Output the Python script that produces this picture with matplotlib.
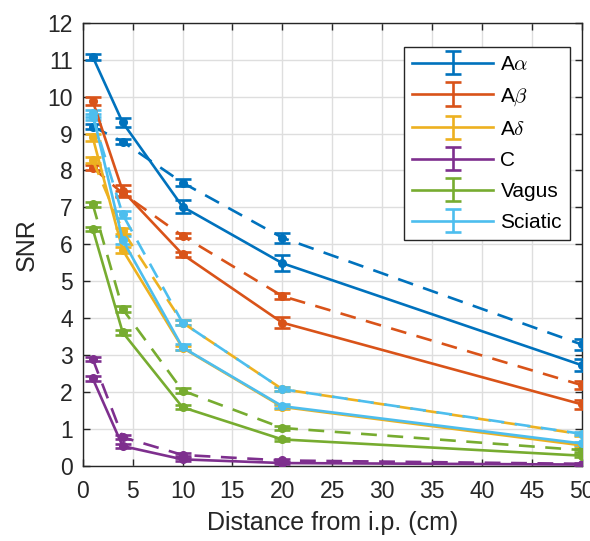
import matplotlib
matplotlib.use("Agg")
import matplotlib.pyplot as plt
from matplotlib.legend_handler import HandlerErrorbar
import numpy as np

plt.rcParams['font.family'] = ['Liberation Sans', 'DejaVu Sans']
plt.rcParams['mathtext.fontset'] = 'cm'

distance = [1, 4, 10, 20, 50]
fibers = ['A$\\alpha$', 'A$\\beta$', 'A$\\delta$', 'C', 'Vagus', 'Sciatic']
colors = ['#0072BD', '#D95319', '#EDB120', '#7E2F8E', '#77AC30', '#4DBEEE']

# solid lines
snr_solid = [
    [11.08, 9.30, 7.02, 5.49, 2.73],
    [9.88, 7.45, 5.73, 3.88, 1.67],
    [8.90, 5.85, 3.20, 1.60, 0.56],
    [2.37, 0.54, 0.18, 0.08, 0.04],
    [6.42, 3.62, 1.59, 0.72, 0.28],
    [9.55, 6.12, 3.21, 1.62, 0.61],
]
err_solid = [
    [0.08, 0.11, 0.17, 0.22, 0.16],
    [0.10, 0.17, 0.07, 0.15, 0.13],
    [0.09, 0.08, 0.05, 0.05, 0.04],
    [0.06, 0.05, 0.04, 0.03, 0.02],
    [0.06, 0.07, 0.06, 0.05, 0.04],
    [0.10, 0.10, 0.08, 0.06, 0.04],
]

# dashed lines
snr_dashed = [
    [9.19, 8.78, 7.67, 6.18, 3.29],
    [8.08, 7.38, 6.23, 4.60, 2.19],
    [8.28, 6.37, 3.88, 2.08, 0.86],
    [2.90, 0.78, 0.30, 0.15, 0.06],
    [7.09, 4.25, 2.04, 1.03, 0.43],
    [9.45, 6.81, 3.88, 2.08, 0.87],
]
err_dashed = [
    [0.06, 0.06, 0.10, 0.14, 0.15],
    [0.07, 0.06, 0.07, 0.09, 0.11],
    [0.08, 0.08, 0.06, 0.05, 0.04],
    [0.06, 0.05, 0.04, 0.03, 0.02],
    [0.07, 0.07, 0.06, 0.05, 0.04],
    [0.09, 0.09, 0.07, 0.05, 0.04],
]

fig = plt.figure(figsize=(5.9, 5.41), dpi=100)
ax = fig.add_axes([0.1402, 0.1386, 0.8458, 0.8194])

lw = 1.9
handles = []
for i in range(len(fibers)):
    ax.errorbar(distance, snr_solid[i], yerr=err_solid[i], color=colors[i],
                lw=lw, marker='o', ms=5.5, capsize=5.6, capthick=lw, elinewidth=lw,
                zorder=3)
    eb = ax.errorbar(distance, snr_dashed[i], yerr=err_dashed[i], color=colors[i],
                     lw=lw, marker='o', ms=5.5, capsize=5.6, capthick=lw, elinewidth=lw,
                     zorder=3)
    eb[0].set_dashes((6, 4))
    # legend proxy without marker
    h = ax.errorbar([np.nan], [np.nan], yerr=[1], color=colors[i], lw=lw,
                    capsize=5.6, capthick=lw, elinewidth=lw)
    handles.append(h)

ax.set_xlim(0, 50)
ax.set_ylim(0, 12)
ax.set_xticks(np.arange(0, 51, 5))
ax.set_yticks(np.arange(0, 13, 1))
ax.grid(True, color='#dedede', lw=1.0)
ax.set_axisbelow(True)
ax.tick_params(direction='in', length=5, width=1, colors='#262626',
               labelsize=16.5, top=True, right=True)
ax.tick_params(axis='x', pad=10)
ax.tick_params(axis='y', pad=7)
for s in ax.spines.values():
    s.set_color('#262626')
    s.set_linewidth(1.0)

ax.set_xlabel('Distance from i.p. (cm)', fontsize=18, color='#262626', labelpad=6)
ax.set_ylabel('SNR', fontsize=18, color='#262626', labelpad=6)

leg = ax.legend(handles, fibers, loc='upper right', bbox_to_anchor=(0.977, 0.946),
                borderaxespad=0, fontsize=15, handlelength=3.9, handletextpad=0.35,
                labelspacing=0.58, borderpad=0.4, fancybox=False, framealpha=1,
                edgecolor='#262626',
                handler_map={type(handles[0]): HandlerErrorbar(yerr_size=0.56)})
leg.get_frame().set_linewidth(1.0)

plt.savefig('out.png', dpi=100)
